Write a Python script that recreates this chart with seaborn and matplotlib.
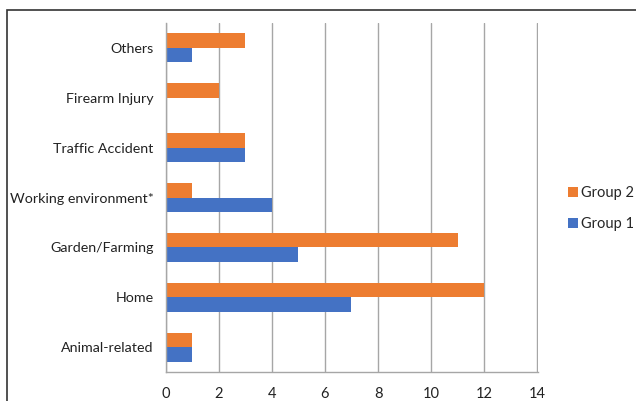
import pandas as pd
import numpy as np
import matplotlib.pyplot as plt
import seaborn as sns
from matplotlib.patches import Rectangle

categories = ['Others', 'Firearm Injury', 'Traffic Accident', 'Working environment*',
              'Garden/Farming', 'Home', 'Animal-related']
group2 = [3, 2, 3, 1, 11, 12, 1]
group1 = [1, 0, 3, 4, 5, 7, 1]
xticks = [0, 2, 4, 6, 8, 10, 12, 14]

df = pd.DataFrame({
    'category': categories * 2,
    'value': group2 + group1,
    'group': ['Group 2'] * len(categories) + ['Group 1'] * len(categories),
})

sns.set_style('white')
plt.rcParams['font.family'] = ['Lato', 'DejaVu Sans']

fig = plt.figure(figsize=(6.36, 4.01), dpi=100)
ax = fig.add_axes([0.2605, 0.0723, 0.5855, 0.8703])

sns.barplot(data=df, y='category', x='value', hue='group', order=categories,
            hue_order=['Group 2', 'Group 1'], palette=['#ED7D31', '#4472C4'],
            orient='h', width=0.58, saturation=1, linewidth=0, ax=ax, legend=True)

ax.set_xlim(0, 14.03)
ax.set_ylim(len(categories) - 0.5, -0.5)
ax.set_xticks(xticks)
ax.set_xticklabels([str(t) for t in xticks], fontsize=10.5, color='#222222')
ax.set_yticks(range(len(categories)))
ax.set_yticklabels(categories, fontsize=10.3, color='#222222')
ax.set_yticks(np.arange(-0.5, len(categories), 1), minor=True)
ax.tick_params(axis='y', which='major', length=0, pad=8.5)
ax.tick_params(axis='y', which='minor', length=5, color='#a6a6a6', width=1)
ax.tick_params(axis='x', which='major', length=5, color='#a6a6a6', width=1, pad=6)
ax.set_xlabel('')
ax.set_ylabel('')

ax.xaxis.grid(True, color='#a6a6a6', linewidth=1)
ax.set_axisbelow(True)
for side in ['top', 'right']:
    ax.spines[side].set_visible(False)
for side in ['left', 'bottom']:
    ax.spines[side].set_color('#a6a6a6')
    ax.spines[side].set_linewidth(1)

handles, labels = ax.get_legend_handles_labels()
ax.legend_.remove()
fig.legend(handles, labels, loc='center left', bbox_to_anchor=(0.893, 0.48),
           frameon=False, fontsize=10.5, handlelength=0.7, handleheight=0.7,
           handletextpad=0.2, labelspacing=1.2, borderpad=0, borderaxespad=0)

fig.add_artist(Rectangle((7 / 636, -0.1), 1.2, 1 - 10 / 401 + 0.1,
                         transform=fig.transFigure, fill=False,
                         edgecolor='#333333', linewidth=1.2))

fig.savefig('out.png', dpi=100)
